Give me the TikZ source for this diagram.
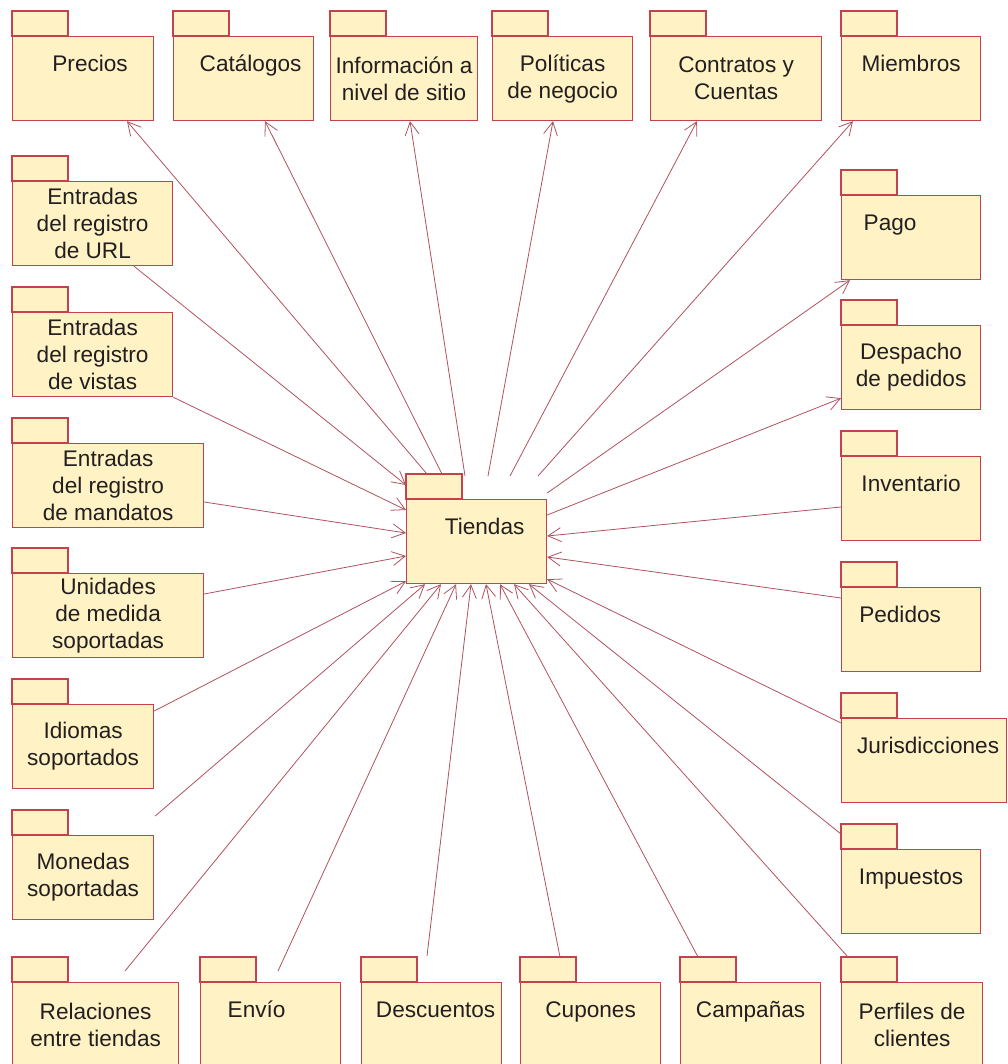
\documentclass[tikz,border=0pt]{standalone}
\usepackage{fontspec}
\setmainfont{Liberation Sans}
\usetikzlibrary{arrows.meta}
\definecolor{pkgfill}{HTML}{FFF3C5}
\definecolor{pkgline}{HTML}{C4414D}
\definecolor{deplink}{HTML}{B0525E}
\definecolor{pkgtext}{HTML}{231F20}
\newcommand{\lblshift}[2]{\hspace*{#1}#2\hspace*{-#1}}

\begin{document}
\begin{tikzpicture}[x=1pt, y=-1pt,
  >={Straight Barb[length=13pt,width=14pt]},
  pkg/.style={draw=pkgline, fill=pkgfill, line width=1.2pt, anchor=north west,
    minimum height=84pt, inner sep=0pt, align=center, text=pkgtext,
    font=\fontsize{22.6}{27}\selectfont},
  oneline/.style={text height=17pt, text depth=31pt},
  tab/.style={draw=pkgline, fill=pkgfill, line width=1.2pt},
  dep/.style={->, draw=deplink, line width=0.8pt}]
\clip (0,0) rectangle (1007,1064);
% top row
\node[pkg, oneline, minimum width=141pt] (precios) at (12,36) {\lblshift{7pt}{Precios}};
\node[pkg, oneline, minimum width=140pt] (catalogos) at (173,36) {\lblshift{7pt}{Catálogos}};
\node[pkg, minimum width=147pt] (infositio) at (330,36) {Información a\\nivel de sitio};
\node[pkg, minimum width=140pt] (politicas) at (492,36) {Políticas\\de negocio};
\node[pkg, minimum width=171pt] (contratos) at (650,36) {Contratos y\\Cuentas};
\node[pkg, oneline, minimum width=139pt] (miembros) at (841,36) {Miembros};
% left column
\node[pkg, minimum width=160pt] (regurl) at (12,181) {Entradas\\del registro\\de URL};
\node[pkg, minimum width=160pt] (regvistas) at (12,312) {Entradas\\del registro\\de vistas};
\node[pkg, minimum width=191pt] (regmandatos) at (12,443) {Entradas\\del registro\\de mandatos};
\node[pkg, minimum width=191pt] (unidades) at (12,573) {Unidades\\de medida\\soportadas};
\node[pkg, minimum width=141pt] (idiomas) at (12,704) {Idiomas\\soportados};
\node[pkg, minimum width=141pt] (monedas) at (12,835) {Monedas\\soportadas};
% bottom row
\node[pkg, minimum width=166pt] (relaciones) at (12,982) {Relaciones\\entre tiendas};
\node[pkg, oneline, minimum width=140pt] (envio) at (200,982) {\lblshift{-14pt}{Envío}};
\node[pkg, oneline, minimum width=140pt] (descuentos) at (361,982) {\lblshift{4pt}{Descuentos}};
\node[pkg, oneline, minimum width=140pt] (cupones) at (520,982) {Cupones};
\node[pkg, oneline, minimum width=140pt] (campanas) at (680,982) {Campañas};
\node[pkg, minimum width=141pt] (perfiles) at (841,982) {Perfiles de\\clientes};
% right column
\node[pkg, oneline, minimum width=139pt] (pago) at (841,195) {\lblshift{-21pt}{Pago}};
\node[pkg, minimum width=139pt] (despacho) at (841,325) {Despacho\\de pedidos};
\node[pkg, oneline, minimum width=139pt] (inventario) at (841,456) {Inventario};
\node[pkg, oneline, minimum width=139pt] (pedidos) at (841,587) {\lblshift{-11pt}{Pedidos}};
\node[pkg, oneline, minimum width=165pt] (jurisdicciones) at (841,718) {\lblshift{4pt}{Jurisdicciones}};
\node[pkg, oneline, minimum width=139pt] (impuestos) at (841,849) {Impuestos};
% centre
\node[pkg, oneline, minimum width=140pt] (tiendas) at (406,499) {\lblshift{8pt}{Tiendas}};

\foreach \p in {precios,catalogos,infositio,politicas,contratos,miembros,
    regurl,regvistas,regmandatos,unidades,idiomas,monedas,
    relaciones,envio,descuentos,cupones,campanas,perfiles,
    pago,despacho,inventario,pedidos,jurisdicciones,impuestos,tiendas}
  \draw[tab] (\p.north west) rectangle ++(56,-25);

% loose ends
\coordinate (monedasend) at ([xshift=1pt,yshift=19pt]monedas.north east);
\coordinate (relacionesend) at ([xshift=113pt,yshift=11pt]relaciones.north west);
\coordinate (envioend) at ([xshift=78pt,yshift=11pt]envio.north west);
\coordinate (descuentosend) at ([xshift=66pt,yshift=26pt]descuentos.north west);

% Tiendas uses these
\draw[dep] ([xshift=21pt,yshift=25pt]tiendas.north west) -- ([xshift=115pt]precios.south west);
\draw[dep] ([xshift=36pt,yshift=25pt]tiendas.north west) -- ([xshift=92pt]catalogos.south west);
\draw[dep] ([xshift=59pt,yshift=23pt]tiendas.north west) -- ([xshift=80pt]infositio.south west);
\draw[dep] ([xshift=82pt,yshift=23pt]tiendas.north west) -- ([xshift=61pt]politicas.south west);
\draw[dep] ([xshift=104pt,yshift=23pt]tiendas.north west) -- ([xshift=47pt]contratos.south west);
\draw[dep] ([xshift=132pt,yshift=23pt]tiendas.north west) -- ([xshift=12pt]miembros.south west);
\draw[dep] ([yshift=6pt]tiendas.north east) -- ([xshift=9pt]pago.south west);
\draw[dep] ([yshift=-16pt]tiendas.north east) -- ([yshift=12pt]despacho.south west);

% these use Tiendas
\draw[dep] ([xshift=122pt]regurl.south west) -- ([yshift=14pt]tiendas.north west);
\draw[dep] (regvistas.south east) -- ([yshift=-11pt]tiendas.north west);
\draw[dep] ([yshift=-59pt]regmandatos.north east) -- ([yshift=-34pt]tiendas.north west);
\draw[dep] ([yshift=-21pt]unidades.north east) -- ([yshift=-57pt]tiendas.north west);
\draw[dep] ([yshift=-7pt]idiomas.north east) -- ([yshift=3pt]tiendas.south west);
\draw[dep] (monedasend) -- ([xshift=19pt]tiendas.south west);
\draw[dep] (relacionesend) -- ([xshift=35pt]tiendas.south west);
\draw[dep] (envioend) -- ([xshift=50pt]tiendas.south west);
\draw[dep] (descuentosend) -- ([xshift=65pt]tiendas.south west);
\draw[dep] ([xshift=40pt,yshift=25pt]cupones.north west) -- ([xshift=80pt]tiendas.south west);
\draw[dep] ([xshift=18pt,yshift=25pt]campanas.north west) -- ([xshift=94pt]tiendas.south west);
\draw[dep] ([xshift=7pt,yshift=25pt]perfiles.north west) -- ([xshift=108pt]tiendas.south west);
\draw[dep] ([yshift=15pt]impuestos.north west) -- ([xshift=123pt]tiendas.south west);
\draw[dep] ([yshift=-5pt]jurisdicciones.north west) -- ([yshift=5pt]tiendas.south east);
\draw[dep] ([yshift=-11pt]pedidos.north west) -- ([yshift=-58pt]tiendas.north east);
\draw[dep] ([yshift=-51pt]inventario.north west) -- ([yshift=-37pt]tiendas.north east);
\end{tikzpicture}
\end{document}
